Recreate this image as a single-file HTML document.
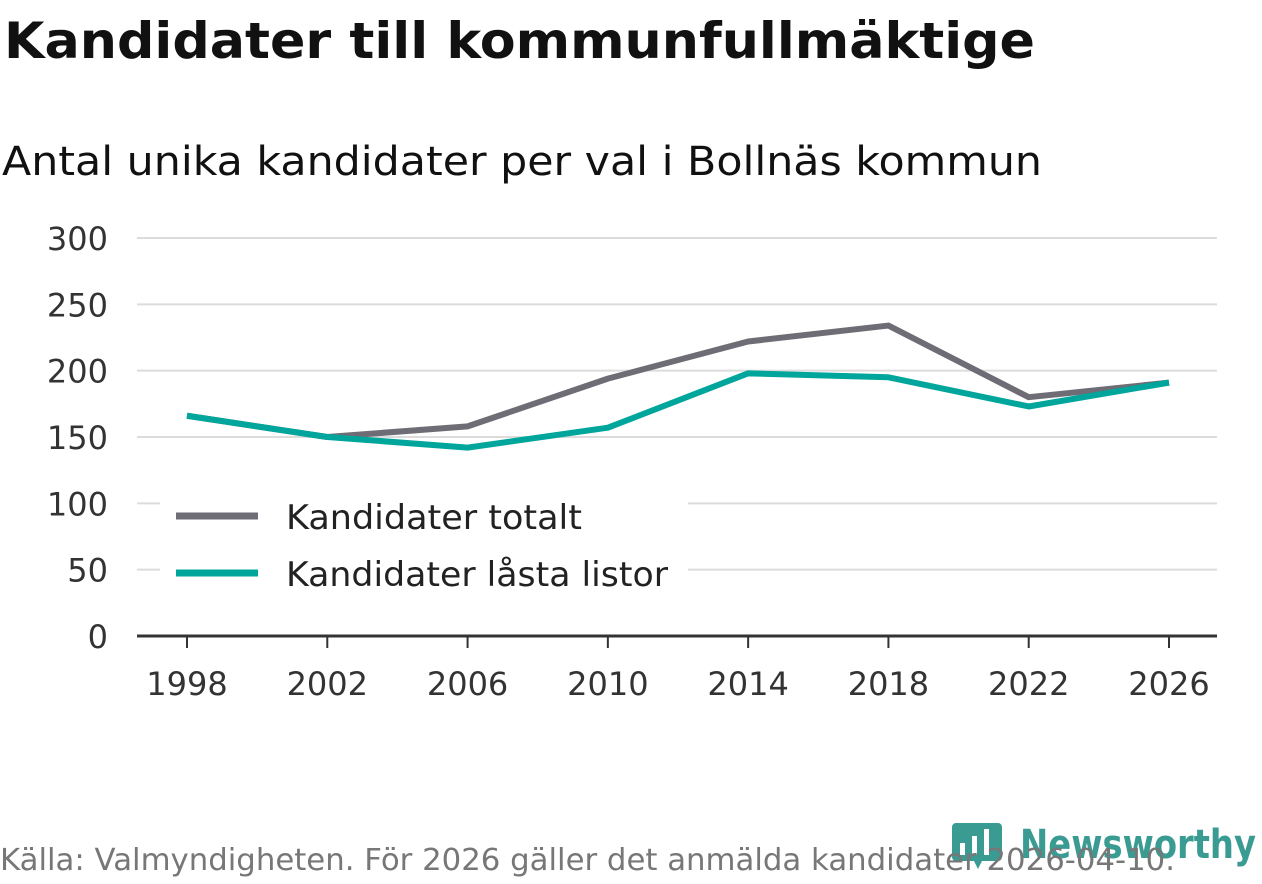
<!DOCTYPE html>
<html><head><meta charset="utf-8"><style>
body{margin:0;width:1262px;height:879px;background:#fff;overflow:hidden;font-family:"Liberation Sans","DejaVu Sans",sans-serif}
svg text{font-family:"DejaVu Sans","Liberation Sans",sans-serif}
</style></head><body>
<svg id="c" width="1262" height="879">
<text x="4" y="58" font-size="50" font-weight="bold" fill="#111" textLength="1031" lengthAdjust="spacingAndGlyphs">Kandidater till kommunfullmäktige</text>
<text x="2" y="175" font-size="40" fill="#111" textLength="1040" lengthAdjust="spacingAndGlyphs">Antal unika kandidater per val i Bollnäs kommun</text>
<g id="grid"></g><g id="lines"></g>
<g>
<rect x="160" y="492" width="528" height="108" fill="#fff"/>
<line x1="176" y1="516" x2="258" y2="516" stroke="#6e6d75" stroke-width="7"/>
<text x="286" y="529" font-size="34" fill="#222" textLength="296" lengthAdjust="spacingAndGlyphs">Kandidater totalt</text>
<line x1="176" y1="573" x2="258" y2="573" stroke="#00a69c" stroke-width="7"/>
<text x="286" y="586" font-size="34" fill="#222" textLength="382" lengthAdjust="spacingAndGlyphs">Kandidater låsta listor</text>
</g>
<g>
<path d="M952 823 h46 a4 4 0 0 1 4 4 v30 a4 4 0 0 1 -4 4 h-16 l-4 8 l-4 -8 h-18 a4 4 0 0 1 -4 -4 v-30 a4 4 0 0 1 4 -4z" fill="#3a9b93"/>
<rect x="960" y="843" width="5" height="12" fill="#fff"/><rect x="972" y="836" width="5" height="19" fill="#fff"/><rect x="984" y="829" width="5" height="26" fill="#fff"/>
<text x="1020" y="858" font-size="40" font-weight="bold" fill="#3a9b93" textLength="236" lengthAdjust="spacingAndGlyphs">Newsworthy</text>
</g>
<text x="0" y="870" font-size="30" fill="#777" textLength="1175" lengthAdjust="spacingAndGlyphs">Källa: Valmyndigheten. För 2026 gäller det anmälda kandidater 2026-04-10.</text>
</svg>
<script>
const years=[1998,2002,2006,2010,2014,2018,2022,2026];
const totalt=[166,150,158,194,222,234,180,191];
const lasta=[166,150,142,157,198,195,173,191];
const yTicks=[0,50,100,150,200,250,300];
const NS="http://www.w3.org/2000/svg";
const x=v=>187+(v-1998)*(1169-187)/28;
const y=v=>636-v*398/300;
const grid=document.getElementById('grid'),lines=document.getElementById('lines');
function mk(t,a,p){const e=document.createElementNS(NS,t);for(const k in a)e.setAttribute(k,a[k]);p.appendChild(e);return e;}
yTicks.forEach(v=>{
 if(v>0){const l=mk('line',{x1:137,x2:1217,y1:y(v),y2:y(v),stroke:'#dcdcdc','stroke-width':2},grid);
 
 }
 const t=mk('text',{x:108,y:y(v)+12,'font-size':32,fill:'#333','text-anchor':'end'},grid);t.textContent=v;
 
 
});
const ax=mk('line',{x1:137,x2:1217,y1:636,y2:636,stroke:'#333','stroke-width':3},grid);


years.forEach(v=>{
 mk('line',{x1:x(v),x2:x(v),y1:636,y2:648,stroke:'#333','stroke-width':2},grid);
 const t=mk('text',{x:x(v),y:695,'font-size':32,fill:'#333','text-anchor':'middle'},grid);t.textContent=v;
 
 
});
[[totalt,'#6e6d75','line-totalt'],[lasta,'#00a69c','line-lasta']].forEach(([d,c,n])=>{
 const p=mk('polyline',{points:d.map((v,i)=>x(years[i])+','+y(v)).join(' '),fill:'none',stroke:c,'stroke-width':6,'stroke-linejoin':'round'},lines);
 
 
});
</script>
</body></html>
